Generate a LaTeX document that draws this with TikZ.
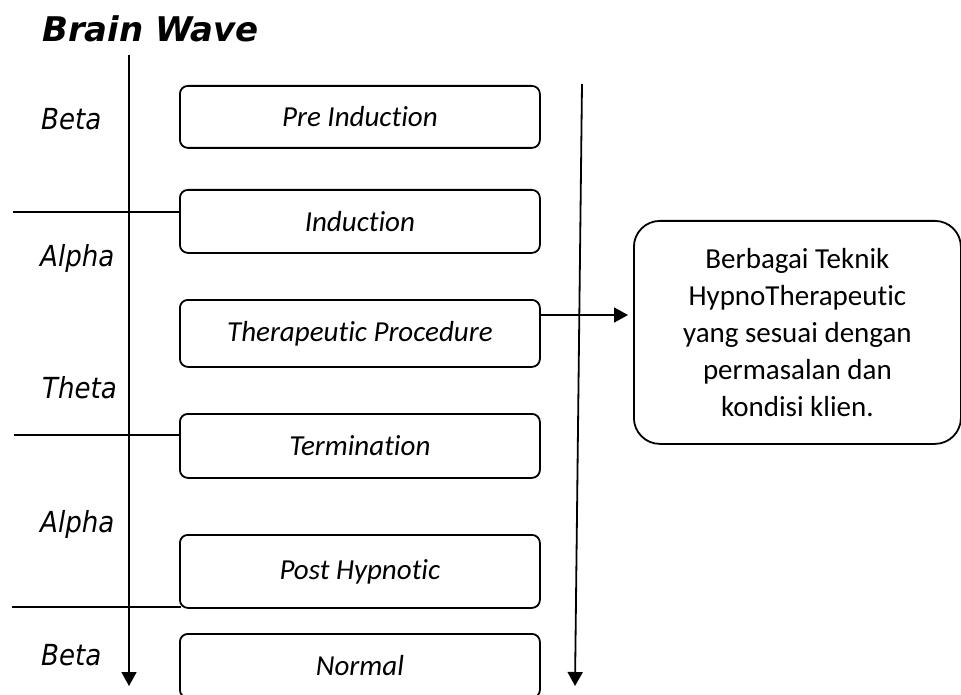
\documentclass[tikz,border=0pt]{standalone}
\usepackage{fontspec}
\setmainfont{Carlito}[Ligatures=NoCommon]
\newfontfamily\dejavu{DejaVu Sans}
\newfontfamily\dejacond{DejaVu Sans Condensed}
\usetikzlibrary{arrows.meta}
\tikzset{
  stage/.style={draw, line width=1.8pt, rounded corners=8pt, minimum width=360pt, anchor=north west,
    inner sep=0pt, font=\fontsize{29}{34}\selectfont\itshape},
  wave/.style={anchor=base west, inner sep=0pt, font=\dejacond\fontsize{29}{34}\selectfont\itshape},
  ln/.style={line width=1.6pt},
  arr/.style={line width=1.8pt, -{Triangle[width=15pt,length=14pt]}},
}
\begin{document}
\begin{tikzpicture}[x=1pt,y=-1pt]
\useasboundingbox (0,0) rectangle (961,695);
% title
\node[anchor=base west, inner sep=0pt, font=\dejavu\bfseries\itshape\fontsize{34}{40}\selectfont] (title) at (42,42) {Brain Wave};
% stage boxes
\node[stage, minimum height=62pt] (pre) at (179,85) {Pre Induction};
\node[stage, minimum height=63pt] (ind) at (179,189) {Induction};
\node[stage, minimum height=67pt] (ther) at (179,299) {Therapeutic Procedure};
\node[stage, minimum height=64pt] (term) at (179,413) {Termination};
\node[stage, minimum height=73pt] (post) at (179,534) {Post Hypnotic};
\node[stage, minimum height=64pt] (norm) at (179,633) {Normal};
% right box
\node[draw, line width=1.8pt, rounded corners=26pt, anchor=north west, minimum width=327pt, minimum height=223pt,
  align=center, inner sep=0pt, font=\fontsize{29}{37}\selectfont] (tech) at (633,220)
  {Berbagai Teknik\\HypnoTherapeutic\\yang sesuai dengan\\permasalan dan\\kondisi klien.};
% wave labels
\node[wave] (b1) at (41,130) {Beta};
\node[wave] (a1) at (40,266) {Alpha};
\node[wave] (t1) at (42,398) {Theta};
\node[wave] (a2) at (40,532) {Alpha};
\node[wave] (b2) at (41,665) {Beta};
% vertical arrows
\coordinate (ltop) at (129,55);
\coordinate (lbot) at (129,686);
\draw[arr] (ltop) -- (lbot);
\coordinate (rtop) at (582,84);
\coordinate (rbot) at (575,686);
\draw[arr] (rtop) -- (rbot);
% separator lines
\coordinate (s1) at (13,212);
\coordinate (s2) at (14,435);
\coordinate (s3) at (12,607);
\draw[ln] (s1) -- (s1 -| ind.west);
\draw[ln] (s2) -- (s2 -| term.west);
\draw[ln] (s3) -- ([xshift=2pt]s3 -| post.west);
% arrow to technique box
\coordinate (h1) at (540,315);
\draw[arr, shorten >=5pt] (h1) -- (h1 -| tech.west);
\end{tikzpicture}
\end{document}
